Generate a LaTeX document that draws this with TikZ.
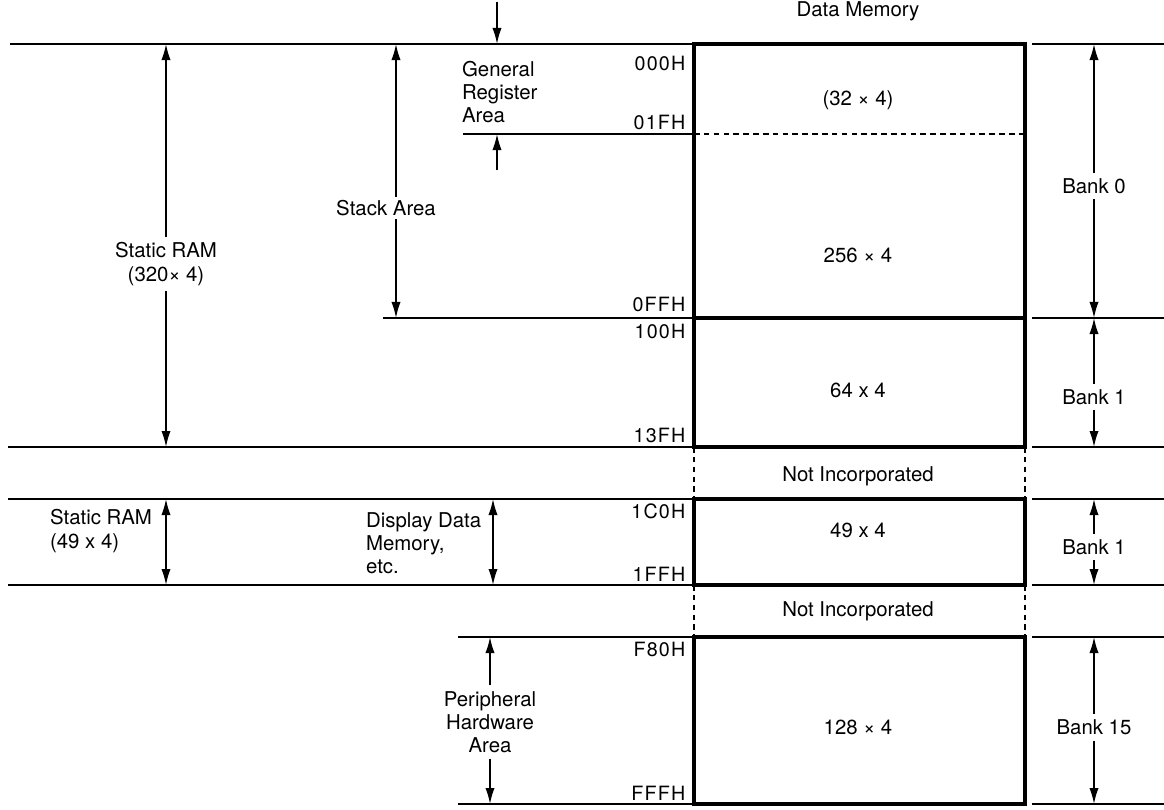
\documentclass[tikz,border=0pt]{standalone}
\usepackage{fontspec}
\setmainfont{TeX Gyre Heros}
\newfontfamily\addrfont[LetterSpace=6]{TeX Gyre Heros}
\usetikzlibrary{arrows.meta,calc}
\tikzset{
  memblk/.style={draw,line width=2.6pt},
  lvl/.style={line width=1.3pt},
  gapln/.style={line width=1.2pt,dash pattern=on 4pt off 3pt},
  tip/.tip={Latex[length=4mm,width=2.3mm]},
  arr/.style={-tip,line width=1.1pt},
  dimarr/.style={tip-tip,line width=1.1pt},
  lbl/.style={font=\fontsize{14.5}{16.5}\selectfont,inner sep=2pt},
  dimlbl/.style={lbl,inner ysep=4pt},
  txt/.style={dimlbl,align=center},
  ltxt/.style={lbl,align=left},
  addr/.style={font=\fontsize{14}{16}\selectfont\addrfont,anchor=east,inner sep=1pt}
}
\begin{document}
\begin{tikzpicture}[x=0.025cm,y=-0.025cm]
  \useasboundingbox (0,0) rectangle (1164,809);
  % address levels
  \coordinate (l0) at (0,44);
  \coordinate (l1) at (0,134);
  \coordinate (l2) at (0,318);
  \coordinate (l3) at (0,447);
  \coordinate (l4) at (0,499);
  \coordinate (l5) at (0,585);
  \coordinate (l6) at (0,637);
  \coordinate (l7) at (0,804);
  \coordinate (rx) at (1032,0);
  \coordinate (rxe) at (1164,0);

  % level lines
  \draw[lvl] (10,44) -- (692,44);
  \draw[lvl] (463,134) -- (692,134);
  \draw[lvl] (383,318) -- (692,318);
  \draw[lvl] (8,447) -- (692,447);
  \draw[lvl] (8,499) -- (692,499);
  \draw[lvl] (8,585) -- (692,585);
  \draw[lvl] (458,637) -- (692,637);
  \draw[lvl] (458,804) -- (692,804);
  \foreach \l in {l0,l2,l3,l4,l5,l6,l7}
    \draw[lvl] (rx |- \l) -- (rxe |- \l);

  % memory blocks
  \draw[memblk] (694,44) rectangle (1025,447);
  \draw[memblk] (694,318) -- (1025,318);
  \draw[gapln] (694,134) -- (1025,134);
  \draw[memblk] (694,499) rectangle (1025,585);
  \draw[memblk] (694,637) rectangle (1025,804);
  \draw[gapln] (694,447) -- (694,499) (1025,447) -- (1025,499)
               (694,585) -- (694,637) (1025,585) -- (1025,637);

  \node[lbl] (dmem) at (858,11) {Data Memory};
  \node[lbl] (grcap) at (858,100) {(32 × 4)};
  \node[lbl] (stkcap) at (858,255) {256 × 4};
  \node[lbl] (b1cap) at (858,390) {64 x 4};
  \node[lbl] (noinc1) at (858,476) {Not Incorporated};
  \node[lbl] (dispcap) at (858,530) {49 x 4};
  \node[lbl] (noinc2) at (858,611) {Not Incorporated};
  \node[lbl] (percap) at (858,727) {128 × 4};

  % addresses
  \node[addr] (a000) at (687,63) {000H};
  \node[addr] (a01f) at (687,122) {01FH};
  \node[addr] (a0ff) at (687,304) {0FFH};
  \node[addr] (a100) at (687,331) {100H};
  \node[addr] (a13f) at (687,435) {13FH};
  \node[addr] (a1c0) at (687,511) {1C0H};
  \node[addr] (a1ff) at (687,574) {1FFH};
  \node[addr] (af80) at (687,649) {F80H};
  \node[addr] (afff) at (687,793) {FFFH};

  % left side areas
  \node[txt] (sram) at (166,264) {Static RAM\\(320× 4)};
  \node[lbl] (stack) at (386,208) {Stack Area};
  \coordinate (stkx) at (396,0);
  \node[ltxt,anchor=north west] (genreg) at (459,58) {General\\Register\\Area};
  \coordinate (grin) at (497,2);
  \coordinate (grout) at (497,170);
  \node[ltxt,anchor=west] (sram2) at (47,531) {Static RAM\\(49 x 4)};
  \coordinate (s2x) at (166,0);
  \node[ltxt,anchor=west] (disp) at (363,543) {Display Data\\Memory,\\etc.};
  \coordinate (dispx) at (493,0);
  \node[txt] (periph) at (490,722) {Peripheral\\Hardware\\Area};

  \draw[arr] (sram.north) -- (sram.north |- l0);
  \draw[arr] (sram.south) -- (sram.south |- l3);
  \draw[arr] (stkx |- stack.north) -- (stkx |- l0);
  \draw[arr] (stkx |- stack.south) -- (stkx |- l2);
  \draw[arr] (grin) -- (grin |- l0);
  \draw[arr] (grout) -- (grout |- l1);
  \draw[dimarr] (s2x |- l4) -- (s2x |- l5);
  \draw[dimarr] (dispx |- l4) -- (dispx |- l5);
  \draw[arr] (periph.north) -- (periph.north |- l6);
  \draw[arr] (periph.south) -- (periph.south |- l7);

  % banks
  \node[dimlbl] (bank0) at (1094,186) {Bank 0};
  \node[dimlbl] (bank1) at (1094,397) {Bank 1};
  \node[dimlbl] (bank1b) at (1094,547) {Bank 1};
  \node[dimlbl] (bank15) at (1094,727) {Bank 15};
  \foreach \b/\t/\u in {bank0/l0/l2,bank1/l2/l3,bank1b/l4/l5,bank15/l6/l7} {
    \draw[arr] (\b.north) -- (\b.north |- \t);
    \draw[arr] (\b.south) -- (\b.south |- \u);
  }
\end{tikzpicture}
\end{document}
